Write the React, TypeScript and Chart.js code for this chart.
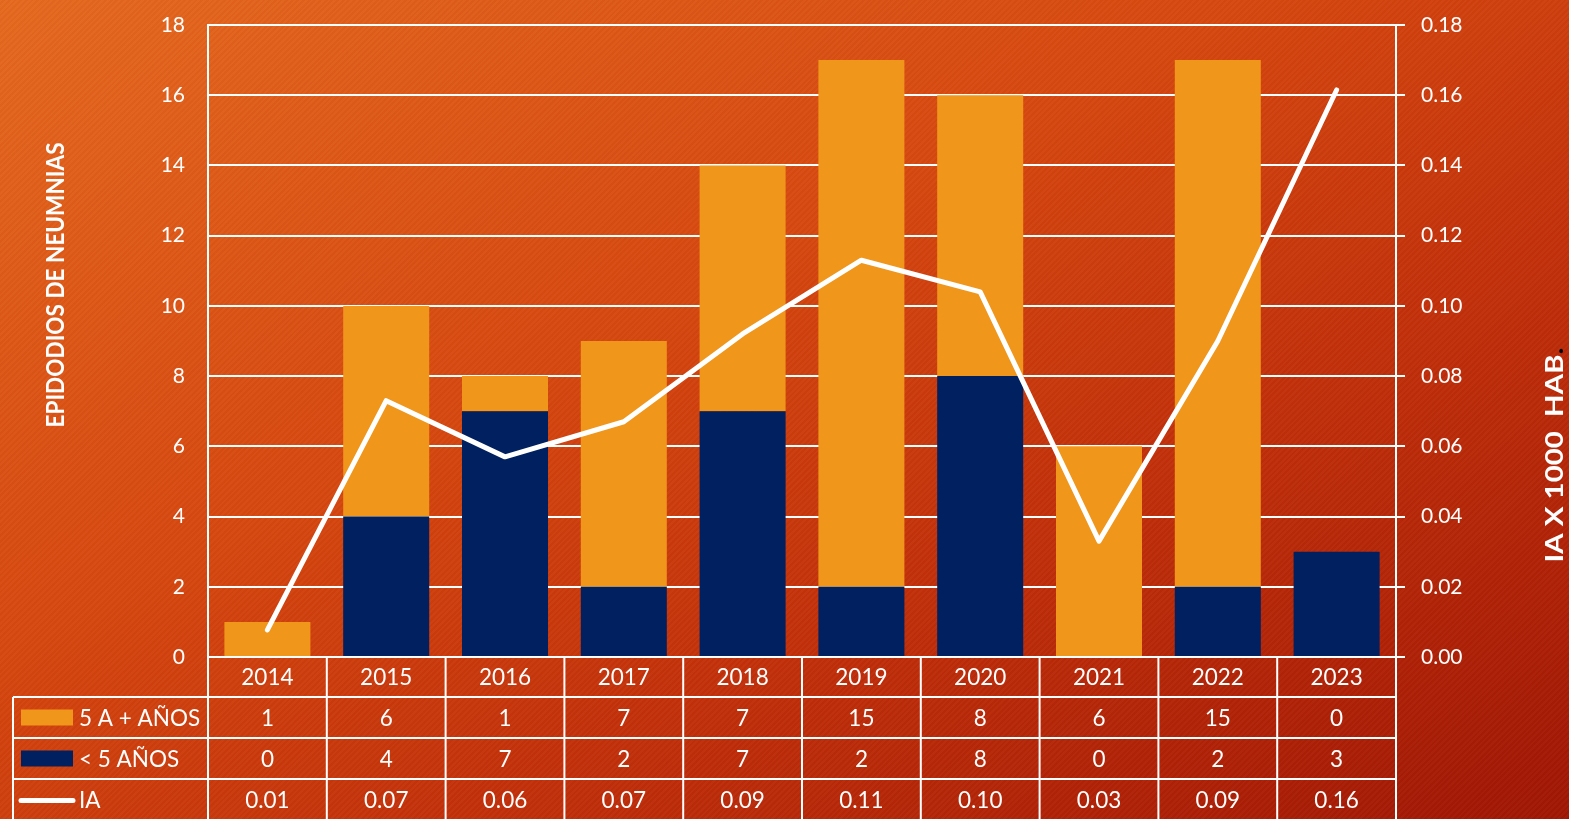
import React, { useEffect, useRef } from 'react';
import { Chart, registerables } from 'chart.js';

Chart.register(...registerables);

const YEARS = ['2014', '2015', '2016', '2017', '2018', '2019', '2020', '2021', '2022', '2023'];
const OVER5 = [1, 6, 1, 7, 7, 15, 8, 6, 15, 0];
const UNDER5 = [0, 4, 7, 2, 7, 2, 8, 0, 2, 3];
const IA = [0.0077, 0.073, 0.057, 0.067, 0.092, 0.113, 0.104, 0.033, 0.09, 0.1615];

const LABEL_OVER5 = '5 A + AÑOS';
const LABEL_UNDER5 = '< 5 AÑOS';
const LABEL_IA = 'IA';
const TITLE_LEFT = 'EPIDODIOS DE NEUMNIAS';
const TITLE_RIGHT_MAIN = 'IA X 1000  HAB';
const TITLE_RIGHT_DOT = '.';

const ORANGE = '#F0961A';
const NAVY = '#002060';
const WHITE = '#FFFFFF';
const FONT = 'Lato, "Open Sans", sans-serif';

const W = 1569;
const H = 819;

function drawVerticalTitle(ctx: any, parts: { text: string; color: string }[], cx: number, cy: number, targetLen: number) {
  ctx.save();
  ctx.font = `bold 25px ${FONT}`;
  ctx.textAlign = 'left';
  ctx.textBaseline = 'middle';
  const widths = parts.map((p) => ctx.measureText(p.text).width);
  const total = widths.reduce((a, b) => a + b, 0);
  const s = targetLen / total;
  ctx.translate(cx, cy);
  ctx.rotate(-Math.PI / 2);
  ctx.scale(s, 1);
  let x = -total / 2;
  parts.forEach((p, i) => {
    ctx.fillStyle = p.color;
    ctx.fillText(p.text, x, 1);
    x += widths[i];
  });
  ctx.restore();
}

const tablePlugin = {
  id: 'tablePlugin',
  afterDraw(chart: any) {
    const ctx = chart.ctx;
    const ca = chart.chartArea;
    const xs = chart.scales.x;
    const n = YEARS.length;
    const cw = (ca.right - ca.left) / n;
    const top = ca.bottom;
    const rows = [top, top + 40, top + 81, top + 122, top + 163];
    const tableLeft = 13;
    ctx.save();
    ctx.strokeStyle = WHITE;
    ctx.lineWidth = 2;
    for (let r = 1; r < rows.length; r++) {
      ctx.beginPath();
      ctx.moveTo(tableLeft, rows[r]);
      ctx.lineTo(ca.right, rows[r]);
      ctx.stroke();
    }
    ctx.beginPath();
    ctx.moveTo(tableLeft, rows[1]);
    ctx.lineTo(tableLeft, rows[4]);
    ctx.stroke();
    for (let i = 0; i <= n; i++) {
      const x = ca.left + i * cw;
      ctx.beginPath();
      ctx.moveTo(x, rows[0]);
      ctx.lineTo(x, rows[4]);
      ctx.stroke();
    }
    ctx.fillStyle = WHITE;
    ctx.font = `22.5px ${FONT}`;
    ctx.textAlign = 'center';
    ctx.textBaseline = 'middle';
    const rowText = [YEARS, OVER5.map(String), UNDER5.map(String), IA.map((v) => v.toFixed(2))];
    for (let r = 0; r < 4; r++) {
      const cy = (rows[r] + rows[r + 1]) / 2 + 1;
      for (let i = 0; i < n; i++) {
        const cx = xs.getPixelForValue(i);
        ctx.fillText(rowText[r][i], cx, cy);
      }
    }
    ctx.textAlign = 'left';
    const c1 = (rows[1] + rows[2]) / 2;
    const c2 = (rows[2] + rows[3]) / 2;
    const c3 = (rows[3] + rows[4]) / 2;
    ctx.fillStyle = ORANGE;
    ctx.fillRect(21, c1 - 8, 52, 16);
    ctx.fillStyle = NAVY;
    ctx.fillRect(21, c2 - 8, 52, 16);
    ctx.strokeStyle = WHITE;
    ctx.lineWidth = 5;
    ctx.lineCap = 'round';
    ctx.beginPath();
    ctx.moveTo(21, c3 + 1);
    ctx.lineTo(73, c3 + 1);
    ctx.stroke();
    ctx.fillStyle = WHITE;
    ctx.fillText(LABEL_OVER5, 79, c1 + 1);
    ctx.fillText(LABEL_UNDER5, 79, c2 + 1);
    ctx.fillText(LABEL_IA, 79, c3 + 1);
    ctx.restore();

    drawVerticalTitle(ctx, [{ text: TITLE_LEFT, color: WHITE }], 55, 285, 285);
    drawVerticalTitle(
      ctx,
      [
        { text: TITLE_RIGHT_MAIN, color: WHITE },
        { text: TITLE_RIGHT_DOT, color: '#000000' },
      ],
      1554,
      455,
      215
    );
  },
};

export default function App() {
  const ref = useRef<HTMLCanvasElement | null>(null);

  useEffect(() => {
    if (!ref.current) return;
    const chart = new Chart(ref.current, {
      type: 'bar',
      data: {
        labels: YEARS,
        datasets: [
          {
            type: 'bar',
            label: LABEL_UNDER5,
            data: UNDER5,
            backgroundColor: NAVY,
            yAxisID: 'y',
            order: 1,
            barPercentage: 0.724,
            categoryPercentage: 1,
          },
          {
            type: 'bar',
            label: LABEL_OVER5,
            data: OVER5,
            backgroundColor: ORANGE,
            yAxisID: 'y',
            order: 1,
            barPercentage: 0.724,
            categoryPercentage: 1,
          },
          {
            type: 'line',
            label: LABEL_IA,
            data: IA,
            borderColor: WHITE,
            borderWidth: 5,
            pointRadius: 0,
            borderCapStyle: 'round',
            borderJoinStyle: 'round',
            tension: 0,
            yAxisID: 'y1',
            order: 0,
          } as any,
        ],
      },
      options: {
        responsive: false,
        animation: false,
        layout: { padding: { top: 25, bottom: 162, left: 0, right: 0 } },
        plugins: {
          legend: { display: false },
          tooltip: { enabled: false },
          title: { display: false },
        },
        scales: {
          x: {
            display: false,
            stacked: true,
            offset: true,
          },
          y: {
            position: 'left',
            stacked: true,
            min: 0,
            max: 18,
            ticks: {
              stepSize: 2,
              color: WHITE,
              font: { family: FONT, size: 21 },
              padding: 23,
            },
            grid: { color: WHITE, lineWidth: 2, drawTicks: false },
            border: { color: WHITE, width: 2 },
            afterFit: (s: any) => {
              s.width = 208;
              s.paddingTop = 0;
              s.paddingBottom = 0;
            },
          },
          y1: {
            position: 'right',
            min: 0,
            max: 0.18,
            ticks: {
              stepSize: 0.02,
              color: WHITE,
              font: { family: FONT, size: 21 },
              padding: 16,
              callback: (v: any) => Number(v).toFixed(2),
            },
            grid: { drawOnChartArea: false, color: WHITE, lineWidth: 2, tickLength: 9 },
            border: { color: WHITE, width: 2 },
            afterFit: (s: any) => {
              s.width = 173;
              s.paddingTop = 0;
              s.paddingBottom = 0;
            },
          },
        },
      },
      plugins: [tablePlugin],
    });
    return () => chart.destroy();
  }, []);

  return (
    <div
      style={{
        position: 'fixed',
        left: 0,
        top: 0,
        width: W,
        height: H,
        background:
          'repeating-linear-gradient(135deg, rgba(255,255,255,0.025) 0px, rgba(255,255,255,0.025) 2px, rgba(0,0,0,0.02) 2px, rgba(0,0,0,0.02) 4px), linear-gradient(to bottom right, #E5691F 0%, #D6470F 40%, #C2300A 65%, #A01604 100%)',
      }}
    >
      <canvas ref={ref} width={W} height={H} style={{ display: 'block' }} />
    </div>
  );
}
